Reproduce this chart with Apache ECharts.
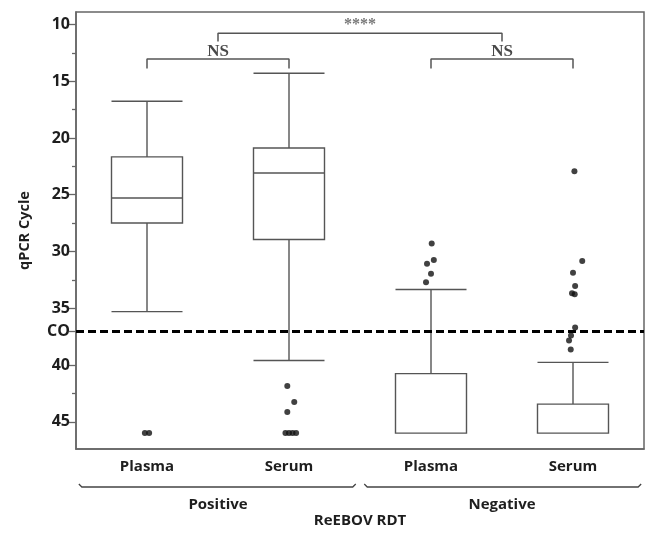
<!DOCTYPE html>
<html>
<head>
<meta charset="utf-8">
<script src="https://cdn.jsdelivr.net/npm/echarts@6/dist/echarts.min.js"></script>
<style>html,body{margin:0;padding:0;background:#fff;}#c{width:647px;height:533px;}</style>
</head>
<body>
<div id="c"></div>
<script>
const categories = ['Plasma', 'Serum', 'Plasma', 'Serum'];
const groups = ['Positive', 'Negative'];
// [lower whisker, Q1, median, Q3, upper whisker] (qPCR cycle)
const boxStats = [
  [16.76, 21.66, 25.29, 27.49, 35.3],
  [14.29, 20.88, 23.08, 28.94, 39.6],
  [33.35, 40.76, 46.0, 46.0, 46.0],
  [39.77, 43.45, 46.0, 46.0, 46.0]
];
// outliers: category index, small horizontal jitter, value
const outlierCat = [0, 0, 1, 1, 1, 1, 1, 1, 1, 2, 2, 2, 2, 2, 3, 3, 3, 3, 3, 3, 3, 3, 3, 3];
const outlierJitter = [-0.015, 0.015, -0.012, 0.037, -0.012, -0.025, 0.0, 0.025, 0.05,
  0.005, 0.02, -0.028, 0.0, -0.035, 0.01, 0.065, 0.0, 0.015, -0.007, 0.012, 0.015, -0.014, -0.028, -0.016];
const outlierValue = [46, 46, 41.85, 43.27, 44.14, 46, 46, 46, 46,
  29.29, 30.74, 31.09, 31.96, 32.72, 22.94, 30.83, 31.87, 33.03, 33.67, 33.76, 36.69, 37.4, 37.85, 38.63];
const yTicks = [10, 15, 20, 25, 30, 35, 37, 40, 45];
const yMinorTicks = [12.5, 17.5, 22.5, 27.5, 32.5, 42.5];
const cutoff = 37;
const cutoffLabel = 'CO';
// significance brackets: x from, x to, y of bar, y of leg end, label, label y
const brackets = [
  { x0: 0, x1: 1, yBar: 13.05, yLeg: 13.88, text: 'NS', ty: 12.4, size: 17 },
  { x0: 2, x1: 3, yBar: 13.05, yLeg: 13.88, text: 'NS', ty: 12.4, size: 17 },
  { x0: 0.5, x1: 2.5, yBar: 10.78, yLeg: 11.49, text: '****', ty: 10.05, size: 16 }
];

const FONT = '"Open Sans", "DejaVu Sans", sans-serif';
const TXT = '#1e1e1e';
const LINE = '#555';

const chart = echarts.init(document.getElementById('c'), null, { renderer: 'canvas' });

const bracketSeries = brackets.map(b => ({
  type: 'line', xAxisIndex: 1, yAxisIndex: 0, symbol: 'none', silent: true,
  lineStyle: { color: LINE, width: 1.5 },
  data: [[b.x0, b.yLeg], [b.x0, b.yBar], [b.x1, b.yBar], [b.x1, b.yLeg]],
  z: 5
}));
const bracketText = {
  type: 'scatter', xAxisIndex: 1, yAxisIndex: 0, symbolSize: 1, silent: true,
  itemStyle: { color: 'rgba(0,0,0,0)' },
  label: {
    show: true, position: 'inside', formatter: p => p.value[2],
    fontFamily: '"Liberation Serif", "Times New Roman", serif', fontWeight: 'bold',
    color: '#222'
  },
  data: brackets.map(b => ({ value: [(b.x0 + b.x1) / 2, b.ty, b.text], label: { fontSize: b.size, color: b.text === 'NS' ? '#1a1a1a' : '#555' } }))
};

chart.setOption({
  animation: false,
  grid: { left: 76, right: 3, top: 12, bottom: 78, show: true, borderColor: '#666', borderWidth: 1.5 },
  xAxis: [{
    type: 'category', data: categories, boundaryGap: true,
    axisLine: { show: true, onZero: false, lineStyle: { color: '#666', width: 1.5 } },
    axisTick: { show: false },
    axisLabel: { fontFamily: FONT, fontWeight: 'bold', fontSize: 15, color: TXT, margin: 10 },
    name: 'ReEBOV RDT', nameLocation: 'middle', nameGap: 64,
    nameTextStyle: { fontFamily: FONT, fontWeight: 'bold', fontSize: 15, color: TXT }
  }, {
    type: 'value', min: -0.5, max: 3.5, show: false
  }],
  yAxis: [{
    type: 'value', inverse: true, min: 8.9, max: 47.4,
    splitLine: { show: false },
    axisLine: { show: true, onZero: false, lineStyle: { color: '#666', width: 1.5 } },
    axisTick: { show: true, customValues: yTicks, length: 7, lineStyle: { color: '#666', width: 1.3 } },
    axisLabel: {
      customValues: yTicks, formatter: v => (v === cutoff ? cutoffLabel : String(v)),
      fontFamily: FONT, fontWeight: 'bold', fontSize: 16, color: TXT, margin: 6
    },
    name: 'qPCR Cycle', nameLocation: 'middle', nameGap: 44, nameRotate: 90,
    nameTextStyle: { fontFamily: FONT, fontWeight: 'bold', fontSize: 14.5, color: TXT }
  }, {
    type: 'value', inverse: true, min: 8.9, max: 47.4, position: 'left',
    splitLine: { show: false },
    axisLine: { show: false, onZero: false },
    axisTick: { show: true, customValues: yMinorTicks, length: 4, lineStyle: { color: '#666', width: 1.3 } },
    axisLabel: { show: false }
  }],
  series: [{
    type: 'boxplot', xAxisIndex: 0, yAxisIndex: 0,
    data: boxStats,
    boxWidth: ['50%', '50%'],
    itemStyle: { color: '#fff', borderColor: LINE, borderWidth: 1.4 },
    z: 3
  }, {
    type: 'scatter', xAxisIndex: 1, yAxisIndex: 0,
    symbolSize: 6,
    itemStyle: { color: '#111' },
    data: outlierValue.map((v, i) => [outlierCat[i] + outlierJitter[i], v]),
    markLine: {
      silent: true, symbol: 'none', label: { show: false },
      lineStyle: { color: '#000', width: 3, type: [8, 4] },
      data: [{ yAxis: cutoff }]
    },
    z: 4
  }, ...bracketSeries, bracketText]
});

// group braces and labels under the x axis
function px(v) { return chart.convertToPixel({ xAxisIndex: 1 }, v); }
const gY = 487;
const graphics = [];
groups.forEach((g, gi) => {
  const a = px(gi * 2 - 0.48 + (gi ? 0.01 : 0));
  const b = px(gi * 2 + 1.48 + (gi ? 0.0 : -0.01));
  graphics.push({
    type: 'polyline', silent: true,
    shape: { points: [[a, gY - 3], [a + 3, gY], [b - 3, gY], [b, gY - 3]] },
    style: { stroke: '#444', lineWidth: 1.3, fill: null }
  });
  graphics.push({
    type: 'text', silent: true,
    x: px(gi * 2 + 0.5), y: 505,
    style: { text: g, font: 'bold 15px ' + FONT, fill: TXT, textAlign: 'center', textVerticalAlign: 'middle' }
  });
});
chart.setOption({ graphic: graphics });
</script>
</body>
</html>
